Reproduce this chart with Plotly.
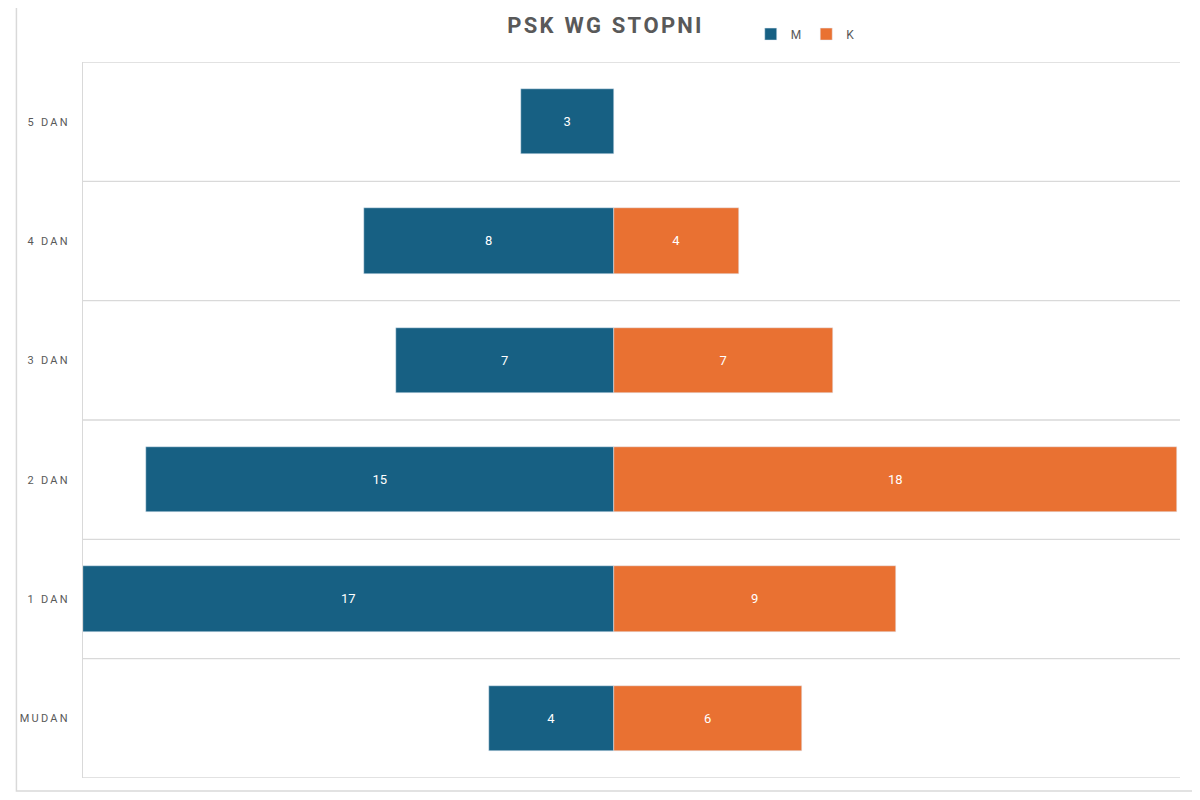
import plotly.graph_objects as go

categories = ["MUDAN", "1 DAN", "2 DAN", "3 DAN", "4 DAN", "5 DAN"]
men = [4, 17, 15, 7, 8, 3]
women = [6, 9, 18, 7, 4, None]

pos = list(range(len(categories)))
fig = go.Figure()
fig.add_trace(go.Bar(y=pos, x=[-v for v in men], orientation="h", name="M",
    marker_color="#176083", width=0.55, text=men, textposition="inside",
    insidetextanchor="middle", textfont=dict(color="white", size=13)))
fig.add_trace(go.Bar(y=pos, x=women, orientation="h", name="K",
    marker_color="#E97132", width=0.55, text=women, textposition="inside",
    insidetextanchor="middle", textfont=dict(color="white", size=13)))

shapes = []
for i in range(len(categories) + 1):
    shapes.append(dict(type="line", xref="paper", yref="y", x0=0, x1=1,
                       y0=i - 0.5, y1=i - 0.5, line=dict(color="#d9d9d9", width=1.3)))
W, H, L, R, T, B = 1200, 800, 68, 28, 52, 30
pw, ph = W - L - R, H - T - B
shapes.append(dict(type="rect", xref="paper", yref="paper",
    x0=-(L - 1) / pw, x1=1 + (R - 12) / pw, y0=-(B - 17) / ph, y1=1 + (T + 9) / ph,
    line=dict(color="#d9d9d9", width=1.5)))

fig.update_layout(
    width=W, height=H, barmode="relative", bargap=0,
    margin=dict(l=L, r=R, t=T, b=B),
    plot_bgcolor="white", paper_bgcolor="white",
    font=dict(family="Roboto", color="#595959"),
    title=dict(text="<b>P S K  W G  S T O P N I</b>".replace(" ", "\u200a").replace("\u200a\u200a", "  "),
               x=0.497, xanchor="center", y=1 - 17 / H, yanchor="middle",
               font=dict(size=22, color="#595959", family="Roboto")),
    legend=dict(orientation="h", x=(740 - L) / pw, xanchor="left", y=1 + 28 / ph, yanchor="middle",
                font=dict(size=12, color="#595959"), traceorder="normal", itemwidth=30),
    xaxis=dict(range=[-17, 18.1], showticklabels=False, showgrid=False, zeroline=False),
    yaxis=dict(range=[-0.5, 5.5], tickvals=pos,
               ticktext=["\u2009".join(c) for c in categories], showgrid=False,
               zeroline=False, showline=True, linecolor="#d9d9d9", linewidth=1.3,
               ticks="", ticklabelstandoff=12, tickfont=dict(size=11, color="#595959")),
    shapes=shapes, uniformtext=dict(mode="show", minsize=10),
)
fig.write_html("out.html")
